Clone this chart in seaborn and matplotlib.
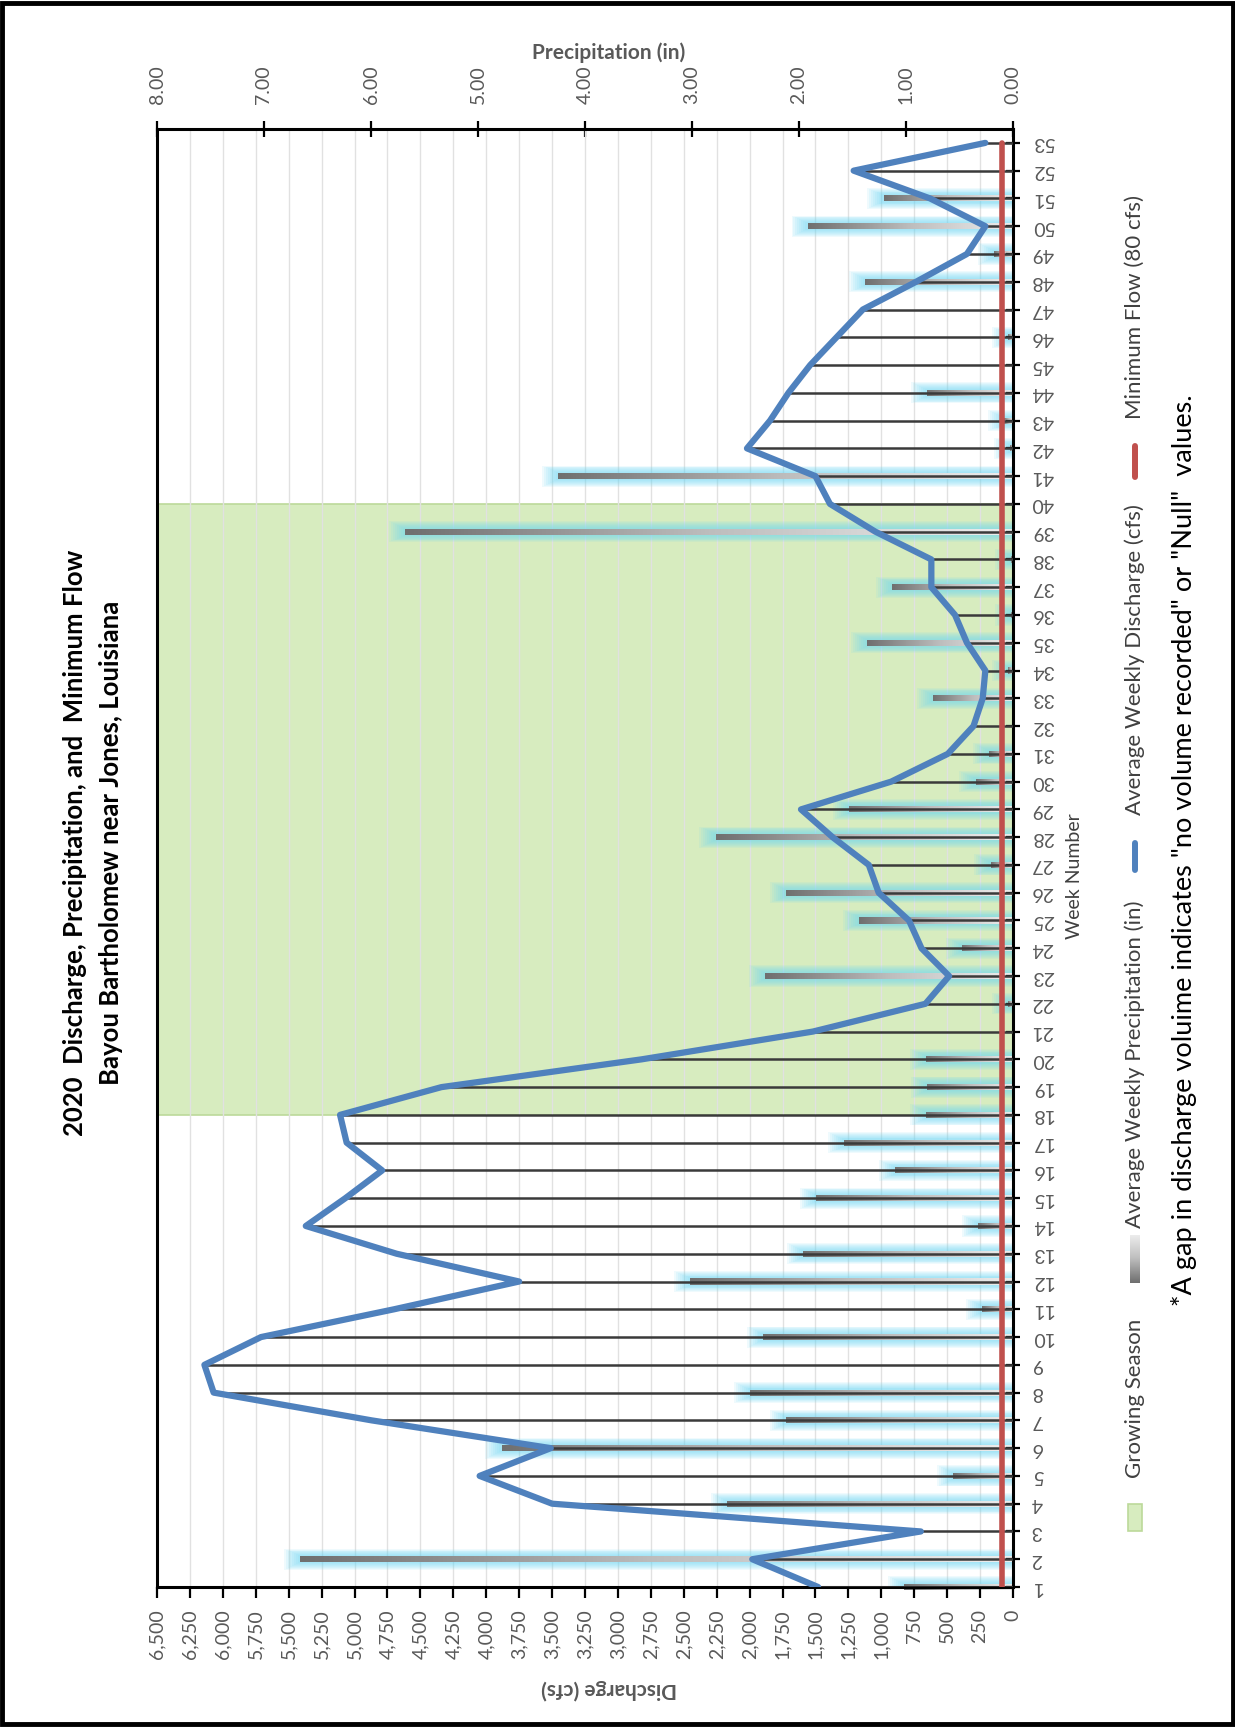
import numpy as np
import pandas as pd
import matplotlib
matplotlib.use("Agg")
import matplotlib.pyplot as plt
import seaborn as sns
from matplotlib.patches import Rectangle
from matplotlib.lines import Line2D
from matplotlib.colors import LinearSegmentedColormap
from matplotlib.transforms import blended_transform_factory

# ---- data -------------------------------------------------------------
weeks = list(range(1, 54))
discharge_cfs = [1480, 1980, 700, 3500, 4050, 3510, 4870, 6070, 6140, 5710,
                 4700, 3750, 4680, 5370, 5070, 4790, 5060, 5110, 4340, 2820,
                 1520, 665, 485, 695, 790, 1020, 1095, 1370, 1610, 925,
                 495, 300, 230, 210, 350, 440, 620, 620, 1045, 1390,
                 1500, 2020, 1845, 1705, 1540, 1340, 1140, 735, 350, 210,
                 630, 1210, 210]
precip_in = [1.02, 6.66, 0.0, 2.67, 0.56, 4.78, 2.12, 2.46, 0.0, 2.34,
             0.29, 3.02, 1.96, 0.33, 1.84, 1.10, 1.58, 0.81, 0.80, 0.81,
             0.0, 0.05, 2.32, 0.48, 1.44, 2.12, 0.21, 2.78, 1.53, 0.35,
             0.22, 0.0, 0.75, 0.05, 1.36, 0.02, 1.13, 0.02, 5.68, 0.0,
             4.25, 0.03, 0.08, 0.80, 0.0, 0.05, 0.0, 1.38, 0.18, 1.92,
             1.21, 0.0, 0.0]
minimum_flow_cfs = [80] * len(weeks)
growing_season = (18, 40)

discharge_ticks = list(range(0, 6501, 250))
precip_ticks = list(range(0, 9))

title_lines = ["2020  Discharge, Precipitation, and  Minimum Flow",
               "Bayou Bartholomew near Jones, Louisiana"]
legend_labels = ["Growing Season", "Average Weekly Precipitation (in)",
                 "Average Weekly Discharge (cfs)", "Minimum Flow (80 cfs)"]
footnote = '*A gap in discharge voluime indicates "no volume recorded" or "Null"  values.'

df = pd.DataFrame({"week": weeks, "discharge": discharge_cfs,
                   "precip": precip_in, "minflow": minimum_flow_cfs})

# ---- style ------------------------------------------------------------
sns.set_style("white")
plt.rcParams["font.family"] = ["Lato", "DejaVu Sans"]
GRAY_TXT = "#595959"
BLUE = "#4f81bd"
RED = "#c0504d"
GREEN = "#d7ecbf"
GLOW = "#6fd8f5"

W, H = 1235, 1727
fig = plt.figure(figsize=(W / 100, H / 100), dpi=100)
L, R, T, B = 157, 1013, 129, 1587
ax = fig.add_axes([L / W, 1 - B / H, (R - L) / W, (B - T) / H])
ax2 = ax.twiny()
ax2.set_zorder(1)
ax.set_zorder(2)
ax.patch.set_visible(False)
ax2.patch.set_visible(True)
ax2.patch.set_facecolor("white")

# growing season band and vertical gridlines (lower layer)
ax2.axhspan(*growing_season, facecolor=GREEN, edgecolor="#bcd99a", lw=1.2, zorder=0.5)
ax2.vlines(discharge_ticks[1:-1], 0, 1,
           transform=blended_transform_factory(ax.transData, ax2.transAxes),
           colors="#e1e1e1", lw=1.0, zorder=0.8)

# precipitation glow: stacked translucent halos around each bar
p = np.array(precip_in)
halo_steps = np.linspace(0, 1, 8)
for t in halo_steps:
    width = 0.76 - 0.46 * t
    pad = 0.15 - 0.13 * t
    glow = pd.DataFrame({"week": weeks, "len": np.where(p > 0, p + pad, 0.0)})
    sns.barplot(data=glow, x="len", y="week", orient="h", native_scale=True,
                width=width, color=GLOW, saturation=1, alpha=0.11,
                linewidth=0, ax=ax2, zorder=2, errorbar=None)

# precipitation bars with a dark-to-light gradient
sns.barplot(data=df, x="precip", y="week", orient="h", native_scale=True,
            width=0.22, color="#9a9a9a", saturation=1, linewidth=0,
            ax=ax2, zorder=3, errorbar=None)
grad_cmap = LinearSegmentedColormap.from_list("bar", ["#eeeeee", "#bdbdbd", "#6f6f6f"])
grad = np.linspace(0, 1, 256).reshape(1, -1)
for rect in ax2.containers[-1]:
    w = rect.get_width()
    if w <= 0:
        continue
    x0, y0, h = rect.get_x(), rect.get_y(), rect.get_height()
    im = ax2.imshow(grad, extent=[x0, x0 + w, y0, y0 + h], cmap=grad_cmap,
                    aspect="auto", origin="lower", interpolation="bilinear", zorder=3.1)
    im.set_clip_path(rect)

# drop lines, discharge line and minimum flow line
ax.hlines(df["week"], 0, df["discharge"], colors="#3a3a3a", lw=1.8, zorder=3)
sns.lineplot(data=df, x="discharge", y="week", orient="y", sort=False, estimator=None,
             color=BLUE, lw=4.5, ax=ax, zorder=4,
             solid_joinstyle="round", solid_capstyle="round")
sns.lineplot(data=df, x="minflow", y="week", orient="y", sort=False, estimator=None,
             color=RED, lw=4.0, ax=ax, zorder=5)

# ---- axes -------------------------------------------------------------
ax.set_xlim(6500, 0)
ax2.set_xlim(8, 0)
ax.set_ylim(1, 53.5)
ax.set_xlabel("")
ax.set_ylabel("")
ax2.set_xlabel("")
ax2.set_ylabel("")

ax.set_xticks(discharge_ticks)
ax.set_xticklabels([f"{v:,}" for v in discharge_ticks])
ax.tick_params(axis="x", direction="out", length=8, width=1.6, color="black",
               labelsize=14, labelcolor=GRAY_TXT, labelrotation=90, pad=8)

ax2.set_xticks(precip_ticks)
ax2.set_xticklabels([f"{v:.2f}" for v in precip_ticks])
ax2.tick_params(axis="x", direction="inout", length=12, width=1.6, color="black",
                labelsize=14, labelcolor=GRAY_TXT, labelrotation=90, pad=12)

ax.yaxis.set_ticks_position("right")
ax.set_yticks(weeks)
ax.set_yticklabels([str(w) for w in weeks])
ax.tick_params(axis="y", direction="inout", length=10, width=1.6, color="black",
               labelsize=14, labelcolor=GRAY_TXT, labelrotation=180, pad=8,
               left=False, right=True, labelleft=False, labelright=True)
for lab in ax.get_yticklabels():
    lab.set_va("center")
ax2.tick_params(axis="y", left=False, right=False, labelleft=False, labelright=False)

for s in ax.spines.values():
    s.set_visible(True)
    s.set_color("black")
    s.set_linewidth(2.2)
for s in ax2.spines.values():
    s.set_visible(False)

# ---- text -------------------------------------------------------------
def fx(x):
    return x / W

def fy(y):
    return 1 - y / H

fig.text(fx(75), fy(843), title_lines[0], rotation=90, ha="center", va="center",
         fontsize=18.5, fontweight="bold", color="black")
fig.text(fx(111), fy(843), title_lines[1], rotation=90, ha="center", va="center",
         fontsize=18.5, fontweight="bold", color="black")
fig.text(fx(609), fy(53), "Precipitation (in)", ha="center", va="center",
         fontsize=15, fontweight="bold", color=GRAY_TXT)
fig.text(fx(609), fy(1689), "Discharge (cfs)", rotation=180, ha="center", va="center",
         fontsize=15, fontweight="bold", color=GRAY_TXT)
fig.text(fx(1074), fy(876), "Week Number", rotation=90, ha="center", va="center",
         fontsize=14, color="#404040")

# legend, laid out along the right margin
LX = 1135
fig.patches.append(Rectangle((fx(LX - 7), fy(1531)), 14 / W, 27 / H,
                             transform=fig.transFigure, facecolor=GREEN,
                             edgecolor="#bcd99a", lw=1.2))
fig.text(fx(LX), fy(1478), legend_labels[0], rotation=90, ha="center", va="bottom",
         fontsize=16, color="#404040")
lax = fig.add_axes([fx(LX - 5), fy(1283), 10 / W, 48 / H])
lax.imshow(np.linspace(0, 1, 64).reshape(-1, 1), cmap=grad_cmap, aspect="auto",
           origin="upper", extent=[0, 1, 0, 1])
lax.set_axis_off()
fig.text(fx(LX), fy(1228), legend_labels[1], rotation=90, ha="center", va="bottom",
         fontsize=16, color="#404040")
fig.lines.append(Line2D([fx(LX), fx(LX)], [fy(870), fy(843)], transform=fig.transFigure,
                        color=BLUE, lw=4.3, solid_capstyle="round"))
fig.text(fx(LX), fy(815), legend_labels[2], rotation=90, ha="center", va="bottom",
         fontsize=16, color="#404040")
fig.lines.append(Line2D([fx(LX), fx(LX)], [fy(477), fy(446)], transform=fig.transFigure,
                        color=RED, lw=4.3, solid_capstyle="round"))
fig.text(fx(LX), fy(419), legend_labels[3], rotation=90, ha="center", va="bottom",
         fontsize=16, color="#404040")

fig.text(fx(1184), fy(1306), footnote, rotation=90, ha="center", va="bottom",
         fontsize=19.5, color="black")

# outer frame
fig.patches.append(Rectangle((0.002, 0.0015), 0.996, 0.997, transform=fig.transFigure,
                             fill=False, edgecolor="black", lw=3.5))

fig.savefig("out.png", dpi=100)
